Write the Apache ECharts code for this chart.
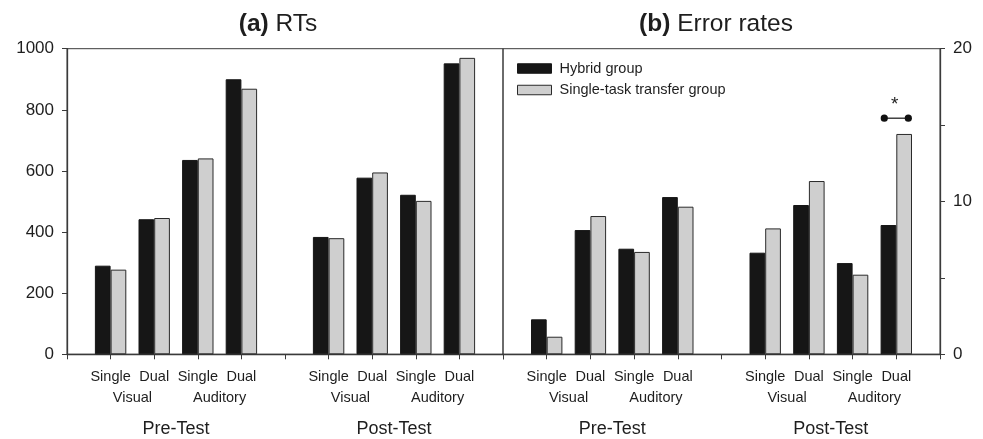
<!DOCTYPE html>
<html>
<head>
<meta charset="utf-8">
<script src="https://cdn.jsdelivr.net/npm/echarts@6/dist/echarts.min.js"></script>
<style>
html,body{margin:0;padding:0;background:#fff;}
#chart{width:983px;height:439px;}
</style>
</head>
<body>
<div id="chart"></div>
<script>
// ---- data ----
const categories = ['', 'Single', 'Dual', 'Single', 'Dual', '', 'Single', 'Dual', 'Single', 'Dual', ''];
const seriesNames = ['Hybrid group', 'Single-task transfer group'];
const rtHybrid = [null, 290, 442, 636, 900, null, 384, 578, 522, 952, null];
const rtSingleTask = [null, 277, 446, 641, 869, null, 380, 595, 502, 970, null];
const errHybrid = [null, 2.29, 8.13, 6.91, 10.29, null, 6.65, 9.77, 5.97, 8.46, null];
const errSingleTask = [null, 1.15, 9.05, 6.70, 9.66, null, 8.24, 11.34, 5.21, 14.42, null];
const modalityLabels = ['Visual', 'Auditory', 'Visual', 'Auditory'];
const modalityPositions = [1.5, 3.5, 6.5, 8.5];
const phaseLabels = ['Pre-Test', 'Post-Test'];
const phasePositions = [2.5, 7.5];
const rtTicks = [0, 200, 400, 600, 800, 1000];
const errLabelTicks = [0, 10, 20];
const significance = [[9, 15.45]];

// ---- chart ----
const FONT = 'Liberation Sans, Arial, Helvetica, sans-serif';
const TXT = '#1e1e1e';
const AX = '#3a3a3a';
const chart = echarts.init(document.getElementById('chart'), null, {renderer: 'canvas'});

function mapLabel(positions, labels) {
  return function (v) {
    for (let i = 0; i < positions.length; i++) {
      if (Math.abs(v - positions[i]) < 1e-6) return labels[i];
    }
    return '';
  };
}

const grids = [
  {left: 67, right: 480, top: 48.7, bottom: 84.7, show: true, borderColor: AX, borderWidth: 1},
  {left: 503, right: 43, top: 48.7, bottom: 84.7, show: true, borderColor: AX, borderWidth: 1}
];

const xAxes = [];
[0, 1].forEach(function (g) {
  xAxes.push({
    type: 'category', gridIndex: g, data: categories, boundaryGap: false,
    axisLine: {onZero: false, lineStyle: {color: AX, width: 1.3}},
    axisTick: {show: true, length: 5, inside: false, interval: 0, lineStyle: {color: AX}},
    axisLabel: {interval: 0, margin: 15, color: TXT, fontFamily: FONT, fontSize: 14.5},
    splitLine: {show: false}
  });
  xAxes.push({
    type: 'value', gridIndex: g, min: 0, max: 10, interval: 0.5, position: 'bottom', offset: 21,
    axisLine: {show: false, onZero: false}, axisTick: {show: false}, splitLine: {show: false},
    axisLabel: {margin: 15, color: TXT, fontFamily: FONT, fontSize: 14.5, showMinLabel: true, showMaxLabel: true,
      formatter: mapLabel(modalityPositions, modalityLabels)}
  });
  xAxes.push({
    type: 'value', gridIndex: g, min: 0, max: 10, interval: 0.5, position: 'bottom', offset: 51,
    axisLine: {show: false, onZero: false}, axisTick: {show: false}, splitLine: {show: false},
    axisLabel: {margin: 15, color: TXT, fontFamily: FONT, fontSize: 18, showMinLabel: true, showMaxLabel: true,
      formatter: mapLabel(phasePositions, phaseLabels)}
  });
});

const yAxes = [
  {
    type: 'value', gridIndex: 0, min: rtTicks[0], max: rtTicks[rtTicks.length - 1], interval: rtTicks[1] - rtTicks[0],
    position: 'left',
    axisLine: {show: true, onZero: false, lineStyle: {color: AX, width: 1.3}},
    axisTick: {show: true, length: 5, lineStyle: {color: AX}},
    axisLabel: {margin: 13, color: TXT, fontFamily: FONT, fontSize: 17,
      formatter: function (v) { return String(v); }},
    splitLine: {show: false}
  },
  {
    type: 'value', gridIndex: 1, min: 0, max: 20, interval: 5, position: 'right',
    axisLine: {show: true, onZero: false, lineStyle: {color: AX, width: 1.3}},
    axisTick: {show: true, length: 5, lineStyle: {color: AX}},
    axisLabel: {margin: 13, color: TXT, fontFamily: FONT, fontSize: 17,
      formatter: function (v) { return errLabelTicks.indexOf(v) >= 0 ? String(v) : ''; }},
    splitLine: {show: false}
  }
];

const blackStyle = {color: '#161616', borderColor: '#161616', borderWidth: 1};
const grayStyle = {color: '#cfcfcf', borderColor: '#2a2a2a', borderWidth: 1};
const BW = 15.7;

function bar(name, data, xi, yi, style) {
  return {
    name: name, type: 'bar', xAxisIndex: xi, yAxisIndex: yi, data: data,
    barWidth: BW, barGap: '0%', itemStyle: style, silent: true, animation: false
  };
}

const option = {
  animation: false,
  backgroundColor: '#fff',
  textStyle: {fontFamily: FONT},
  title: [
    {text: '{b|(a)} RTs', left: 273, top: 7, textAlign: 'center',
      textStyle: {fontFamily: FONT, fontSize: 24.5, fontWeight: 'normal', color: TXT,
        rich: {b: {fontFamily: FONT, fontSize: 24.5, fontWeight: 'bold', color: TXT}}}},
    {text: '{b|(b)} Error rates', left: 711, top: 7, textAlign: 'center',
      textStyle: {fontFamily: FONT, fontSize: 24.5, fontWeight: 'normal', color: TXT,
        rich: {b: {fontFamily: FONT, fontSize: 24.5, fontWeight: 'bold', color: TXT}}}}
  ],
  legend: {
    orient: 'vertical', left: 517, top: 61, padding: 0, itemWidth: 34, itemHeight: 9.5, itemGap: 6.5,
    icon: 'rect', selectedMode: false,
    textStyle: {fontFamily: FONT, fontSize: 14.5, color: TXT, padding: [0, 0, 0, 3], lineHeight: 14},
    data: [
      {name: seriesNames[0], itemStyle: blackStyle},
      {name: seriesNames[1], itemStyle: grayStyle}
    ]
  },
  grid: grids,
  xAxis: xAxes,
  yAxis: yAxes,
  series: [
    bar(seriesNames[0], rtHybrid, 0, 0, blackStyle),
    bar(seriesNames[1], rtSingleTask, 0, 0, grayStyle),
    bar(seriesNames[0], errHybrid, 3, 1, blackStyle),
    bar(seriesNames[1], errSingleTask, 3, 1, grayStyle),
    {
      type: 'custom', xAxisIndex: 3, yAxisIndex: 1, data: significance, silent: true, z: 10,
      renderItem: function (params, api) {
        const p = api.coord([api.value(0), api.value(1)]);
        const band = api.size([1, 0])[0];
        const dx = band * 0.275;
        return {
          type: 'group',
          children: [
            {type: 'line', shape: {x1: p[0] - dx, y1: p[1], x2: p[0] + dx, y2: p[1]},
              style: {stroke: '#444', lineWidth: 1.5}},
            {type: 'circle', shape: {cx: p[0] - dx, cy: p[1], r: 3.6}, style: {fill: '#111'}},
            {type: 'circle', shape: {cx: p[0] + dx, cy: p[1], r: 3.6}, style: {fill: '#111'}},
            {type: 'text', style: {text: '*', x: p[0] - 1.5, y: p[1] - 13, align: 'center', verticalAlign: 'middle',
              fontFamily: FONT, fontSize: 19, fill: TXT}}
          ]
        };
      }
    }
  ]
};
chart.setOption(option);
</script>
</body>
</html>
